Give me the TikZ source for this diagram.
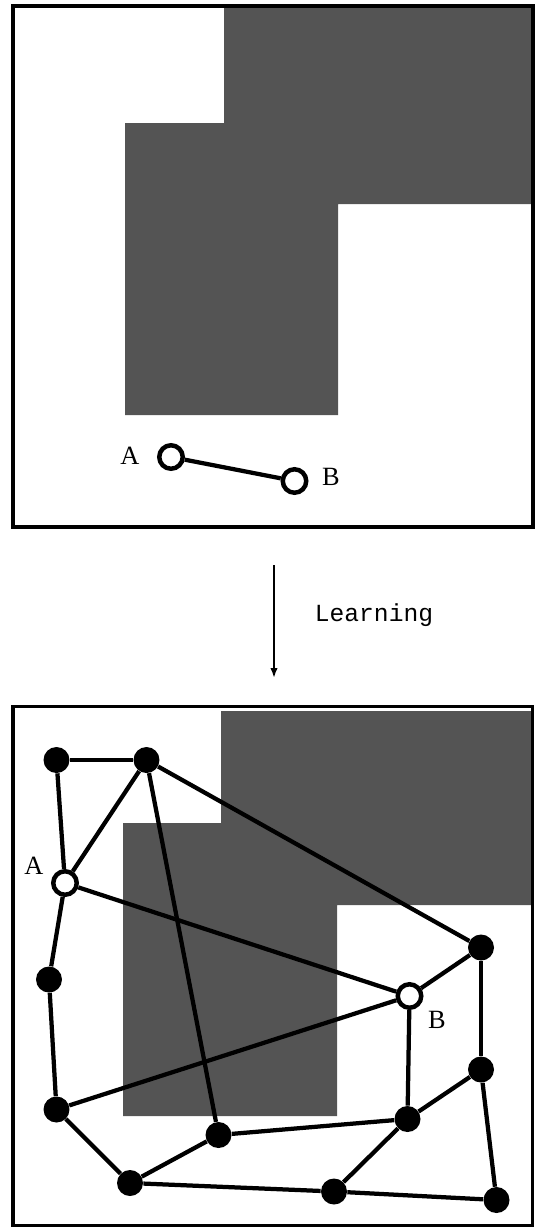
\documentclass[tikz,border=0pt]{standalone}
\usepackage{fontspec}
\setmainfont{Liberation Serif}
\setmonofont{Liberation Mono}
\usetikzlibrary{arrows.meta,positioning}
\definecolor{obstacle}{gray}{0.33}
\tikzset{
  wall/.style     = {fill=obstacle},
  frame/.style    = {draw, line width=0.07cm},
  freenode/.style = {draw, circle, fill=white, line width=0.09cm,
                     inner sep=0pt, minimum size=0.47cm},
  roadnode/.style = {fill, circle, inner sep=0pt, minimum size=0.52cm},
  link/.style     = {line width=0.085cm},
  lbl/.style      = {font=\fontsize{15}{17}\selectfont, inner sep=0pt},
  sig/.style      = {-{Latex[length=0.2cm,width=0.15cm]}, line width=0.045cm},
}

\begin{document}
\begin{tikzpicture}[x=0.02cm,y=-0.02cm]
\useasboundingbox (0,0) rectangle (537,1227);
% workspace before learning
\fill[wall] (224,6) -- (533,6) -- (533,204) -- (338,204) -- (338,415)
  -- (125,415) -- (125,123) -- (224,123) -- cycle;
\draw[frame] (13,6) rectangle (533,527);
\node[freenode] (sA) at (171,457) {};
\node[freenode] (sB) at (294.5,481) {};
\node[lbl] (sAl) at (130,456) {A};
\node[lbl] (sBl) at (331,477) {B};
\draw[link] (sA) -- (sB);

% learning step
\coordinate (ltop) at (274,565);
\coordinate (lbot) at (274,678);
\draw[sig] (ltop) -- (lbot);
\node[font=\ttfamily\fontsize{14}{16}\selectfont] (learn) at (374,615) {Learning};

% workspace after learning
\fill[wall] (221,711) -- (532,711) -- (532,905) -- (337,905) -- (337,1116)
  -- (123,1116) -- (123,823) -- (221,823) -- cycle;
\draw[frame] (13,706.5) rectangle (532.5,1225.5);
\node[roadnode] (n1)  at (56.5,760) {};
\node[roadnode] (n2)  at (146.5,760) {};
\node[freenode] (A)   at (65,883) {};
\node[roadnode] (n3)  at (49,979.5) {};
\node[roadnode] (n4)  at (56.5,1109.5) {};
\node[roadnode] (n5)  at (130,1183) {};
\node[roadnode] (n6)  at (218.5,1135) {};
\node[roadnode] (n7)  at (334,1191.5) {};
\node[roadnode] (n8)  at (407.5,1119) {};
\node[freenode] (B)   at (409.5,996) {};
\node[roadnode] (n9)  at (481,947.5) {};
\node[roadnode] (n10) at (481,1069.5) {};
\node[roadnode] (n11) at (496.5,1200) {};
\node[lbl] (Al) at (34,866) {A};
\node[lbl] (Bl) at (437,1020) {B};
\foreach \a/\b in {n1/n2, n1/A, n2/A, n2/n6, n2/n9, A/n3, A/B, n3/n4,
                   n4/B, n4/n5, n5/n6, n5/n7, n6/n8, n8/B, n8/n10, n8/n7,
                   B/n9, n9/n10, n10/n11, n7/n11}
  \draw[link] (\a) -- (\b);
\end{tikzpicture}
\end{document}
